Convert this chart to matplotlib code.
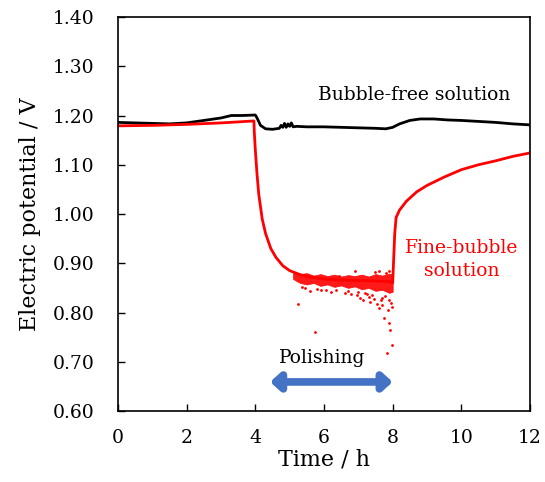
import numpy as np
import matplotlib
matplotlib.use('Agg')
import matplotlib.pyplot as plt

plt.rcParams['font.family'] = ['DejaVu Serif']

### Bubble-free solution (black trace)
t_free = [0, 0.5, 1.0, 1.5, 2.0, 2.5, 3.0, 3.3, 3.6, 4.0, 4.05, 4.15, 4.3, 4.5, 4.7,
          4.75, 4.8, 4.85, 4.9, 4.95, 5.0, 5.05, 5.1, 5.2, 5.5, 6.0, 6.5, 7.0, 7.5,
          7.8, 8.0, 8.2, 8.5, 8.8, 9.2, 9.6, 10.0, 10.5, 11.0, 11.5, 12.0]
v_free = [1.186, 1.185, 1.184, 1.183, 1.185, 1.190, 1.195, 1.200, 1.200, 1.201, 1.195,
          1.180, 1.173, 1.172, 1.174, 1.180, 1.176, 1.184, 1.176, 1.183, 1.178, 1.185,
          1.177, 1.178, 1.177, 1.177, 1.176, 1.175, 1.174, 1.173, 1.176, 1.183, 1.190,
          1.193, 1.193, 1.191, 1.190, 1.188, 1.186, 1.183, 1.181]

### Fine-bubble solution (red trace)
t_fine = [0, 1, 2, 3, 3.5, 3.96, 3.97, 4.0, 4.05, 4.1, 4.2, 4.3, 4.45, 4.6, 4.8, 5.0,
          5.3, 5.6, 6.0, 6.5, 7.0, 7.5, 7.9, 8.0, 8.03, 8.06, 8.1, 8.2, 8.4, 8.7, 9.0,
          9.5, 10.0, 10.5, 11.0, 11.5, 12.0]
v_fine = [1.179, 1.180, 1.182, 1.185, 1.187, 1.189, 1.166, 1.130, 1.080, 1.040, 0.990,
          0.960, 0.930, 0.912, 0.895, 0.885, 0.877, 0.872, 0.868, 0.866, 0.865, 0.864,
          0.863, 0.860, 0.910, 0.960, 0.993, 1.008, 1.026, 1.045, 1.058, 1.075, 1.090,
          1.100, 1.108, 1.117, 1.124]

# noisy band during polishing (ragged upper / lower edges)
t_band = [5.1, 5.3, 5.5, 5.7, 5.9, 6.1, 6.3, 6.5, 6.7, 6.9, 7.1, 7.3, 7.5, 7.7, 7.9, 8.0]
band_hi = [0.884, 0.878, 0.880, 0.875, 0.878, 0.874, 0.877, 0.873, 0.876, 0.874, 0.877,
           0.873, 0.878, 0.875, 0.879, 0.877]
band_lo = [0.868, 0.860, 0.857, 0.860, 0.854, 0.857, 0.852, 0.855, 0.850, 0.853, 0.847,
           0.850, 0.844, 0.846, 0.840, 0.842]

# scattered outlier points
t_out = [5.24, 5.74, 5.6, 5.9, 6.2, 6.45, 6.6, 6.8, 6.95, 7.05, 7.15, 7.2, 7.3, 7.35,
         7.45, 7.49, 7.55, 7.6, 7.65, 7.7, 7.75, 7.78, 7.8, 7.83, 7.85, 7.88, 7.92,
         7.95, 7.98, 7.9, 7.6, 5.45, 5.8, 6.05, 6.35, 6.7, 7.0, 7.25, 7.4, 7.68, 7.9,
         7.97, 5.35, 6.9]
v_out = [0.817, 0.760, 0.843, 0.845, 0.842, 0.874, 0.840, 0.838, 0.835, 0.830, 0.826,
         0.840, 0.832, 0.822, 0.828, 0.882, 0.818, 0.809, 0.825, 0.815, 0.789, 0.834,
         0.880, 0.718, 0.805, 0.779, 0.764, 0.820, 0.734, 0.885, 0.884, 0.850, 0.848,
         0.846, 0.845, 0.843, 0.842, 0.838, 0.836, 0.830, 0.826, 0.812, 0.852, 0.884]

x_ticks = [0, 2, 4, 6, 8, 10, 12]
y_ticks = [0.60, 0.70, 0.80, 0.90, 1.00, 1.10, 1.20, 1.30, 1.40]

fig = plt.figure(figsize=(5.45, 4.82), dpi=100)
ax = fig.add_axes([0.2165, 0.1473, 0.756, 0.8174])

ax.plot(t_free, v_free, color='black', lw=2.0)
ax.fill_between(t_band, band_lo, band_hi, color='red', lw=0.5, alpha=0.9)
ax.plot(t_fine, v_fine, color='red', lw=2.0)
ax.scatter(t_out, v_out, color='red', s=4, lw=0)

ax.text(8.62, 1.242, 'Bubble-free solution', fontsize=13.5, ha='center', va='center')
ax.text(10.0, 0.908, 'Fine-bubble\nsolution', fontsize=13.5, color='red',
        ha='center', va='center', linespacing=1.4)
ax.text(5.94, 0.708, 'Polishing', fontsize=13.5, ha='center', va='center')
# polishing period arrow
ax.annotate('', xy=(8.0, 0.659), xytext=(4.43, 0.659),
            arrowprops=dict(arrowstyle='<|-|>,head_length=0.55,head_width=0.5',
                            color='#4472C4', lw=5.5, shrinkA=0, shrinkB=0))

ax.set_xlim(0, 12)
ax.set_ylim(0.6, 1.4)
ax.set_xticks(x_ticks)
ax.set_yticks(y_ticks)
ax.set_yticklabels(['%.2f' % y for y in y_ticks])
ax.tick_params(direction='in', length=5, width=1, labelsize=13.5)
ax.tick_params(axis='y', pad=17)
ax.tick_params(axis='x', pad=13)
for s in ax.spines.values():
    s.set_linewidth(1.2)

ax.set_xlabel('Time / h', fontsize=16, labelpad=1)
ax.set_ylabel('Electric potential / V', fontsize=16, labelpad=8)

fig.savefig('out.png', dpi=100)
